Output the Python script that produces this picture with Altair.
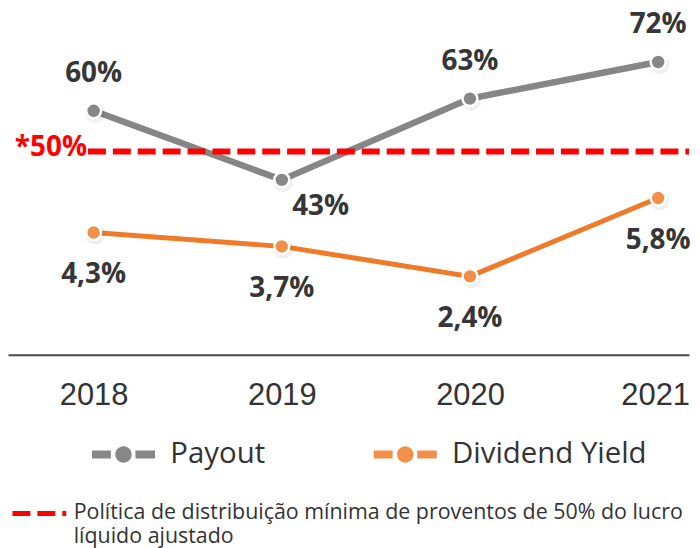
import altair as alt
import pandas as pd

years = [2018, 2019, 2020, 2021]
payout = [60, 43, 63, 72]
dividend_yield = [4.3, 3.7, 2.4, 5.8]
series_names = ["Payout", "Dividend Yield"]
line_colors = ["#868686", "#EF7B2A"]
point_colors = ["#878787", "#F2904A"]
policy_min = 50
policy_label = "*50%"
footnote_lines = ["Política de distribuição mínima de proventos de 50% do lucro", "líquido ajustado"]

rows = []
for y, p in zip(years, payout):
    rows.append({"series": "Payout", "year": y, "value": p, "label": f"{p:.0f}%"})
for y, d in zip(years, dividend_yield):
    rows.append({"series": "Dividend Yield", "year": y, "value": d, "label": f"{d:.1f}%".replace(".", ",")})
df = pd.DataFrame(rows)
policy_df = pd.DataFrame({"policy": [policy_min], "name": ["policy"], "label": [policy_label]})

FONT = "Open Sans"
LABEL_COLOR = "#363636"
X_MIN, X_MAX = 2017.545, 2021.164

x_enc = alt.X("year:Q", scale=alt.Scale(domain=[X_MIN, X_MAX], nice=False, zero=False),
              axis=alt.Axis(values=years, format="d", title=None, ticks=False, grid=False,
                            domainColor="#4a4a4a", domainWidth=2, labelFont="Liberation Sans",
                            labelFontSize=31, labelColor="#333333", labelPadding=26,
                            labelFlush=False,
                            labelOffset={"condition": {"test": "datum.value == 2021", "value": -3},
                                         "value": 0}))

fill_scale = alt.Scale(domain=series_names, range=point_colors)

legend_path = ("M-1,-0.125H-0.4V0.125H-1Z M0.38,-0.125H1V0.125H0.38Z "
               "M-0.26,0A0.26,0.26,0,1,0,0.26,0A0.26,0.26,0,1,0,-0.26,0Z")

base = alt.Chart(df)


def series_layers(idx, domain, width, up_filter, up_dy, down_dy, down_dx):
    name = series_names[idx]
    s = base.transform_filter(alt.datum.series == name)
    y_enc = alt.Y("value:Q", scale=alt.Scale(domain=domain, nice=False, zero=False), axis=None)
    line = s.mark_line(strokeWidth=width, strokeCap="round", color=line_colors[idx]).encode(
        x=x_enc, y=y_enc)
    shadow = s.mark_circle(size=380, color="#000000", opacity=0.06, xOffset=1.5, yOffset=2.5).encode(
        x=x_enc, y=y_enc)
    pts = s.mark_circle(size=225, stroke="white", strokeWidth=2.5, opacity=1).encode(
        x=x_enc, y=y_enc,
        fill=alt.Fill("series:N", scale=fill_scale,
                      legend=alt.Legend(title=None, orient="none", legendX=84, legendY=415,
                                        direction="horizontal", symbolType=legend_path,
                                        symbolSize=4006, symbolStrokeWidth=0,
                                        labelFont=FONT, labelFontSize=29.5, labelColor="#333333",
                                        labelOffset=15, columnPadding=108, labelLimit=400)))
    layers = [line, shadow, pts]
    if up_filter is not None:
        up = s.transform_filter(up_filter).mark_text(
            font=FONT, fontWeight="bold", fontSize=28, color=LABEL_COLOR, baseline="middle",
            dy=up_dy).encode(x=x_enc, y=y_enc, text="label:N")
        down = s.transform_filter("!(" + up_filter + ")").mark_text(
            font=FONT, fontWeight="bold", fontSize=28, color=LABEL_COLOR, baseline="middle",
            dy=down_dy, dx=down_dx).encode(x=x_enc, y=y_enc, text="label:N")
        layers += [up, down]
    else:
        down = s.mark_text(font=FONT, fontWeight="bold", fontSize=28, color=LABEL_COLOR,
                           baseline="middle", dy=down_dy).encode(x=x_enc, y=y_enc, text="label:N")
        layers += [down]
    return layers


payout_layers = series_layers(0, [0, 85], 6.5, "datum.year != 2019", -37, 27, 39)
dy_layers = series_layers(1, [-1, 14], 5, None, 0, 43, 0)

policy_y = alt.Y("policy:Q", scale=alt.Scale(domain=[0, 85], nice=False, zero=False), axis=None)
rule = alt.Chart(policy_df).mark_rule(color="#FF0000", strokeWidth=6).encode(
    x=alt.datum(2017.97), x2=alt.datum(X_MAX), y=policy_y,
    strokeDash=alt.StrokeDash("name:N", scale=alt.Scale(domain=["policy"], range=[[18, 7]]),
                              legend=alt.Legend(title=None, orient="none", legendX=2, legendY=477,
                                                symbolType="stroke", symbolSize=2916,
                                                symbolStrokeColor="#FF0000", symbolStrokeWidth=5,
                                                labelExpr=str(footnote_lines),
                                                labelFont=FONT, labelFontSize=21.5,
                                                labelColor="#333333", labelOffset=5,
                                                labelLimit=700)))
policy_text = alt.Chart(policy_df).mark_text(
    font=FONT, fontWeight="bold", fontSize=28, color="#FF0000", align="right",
    baseline="middle", dy=-3, dx=-1).encode(x=alt.datum(2017.97), y=policy_y, text="label:N")

payout_chart = alt.layer(*payout_layers[:3], rule, policy_text, *payout_layers[3:])
dy_chart = alt.layer(*dy_layers)

chart = alt.layer(payout_chart, dy_chart).resolve_scale(y="independent").properties(
    width=684, height=347, padding=0
).configure(background="white").configure_view(stroke=None)

chart.save("out.html", embed_options={"renderer": "svg", "actions": False})
